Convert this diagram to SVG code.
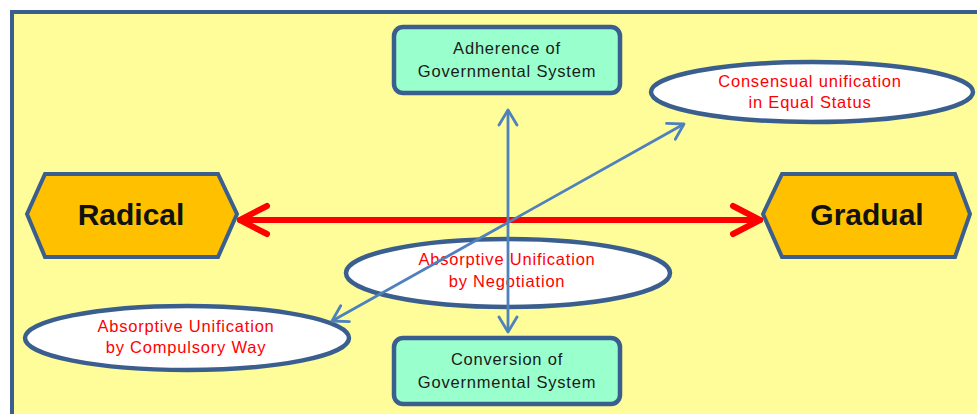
<svg xmlns="http://www.w3.org/2000/svg" width="977" height="414" viewBox="0 0 977 414">
<style>
.panel{fill:#FFFD99;stroke:#3A5F8F;stroke-width:4}
.box{fill:#99FFCC;stroke:#3A5F8F;stroke-width:4.5}
.hex{fill:#FFC000;stroke:#3A5F8F;stroke-width:4}
.ell{fill:#FFFFFF;stroke:#3A5F8F;stroke-width:4.5}
.bt{font-family:"Liberation Sans",Arial,sans-serif;font-size:16.5px;letter-spacing:0.8px;fill:#1A1A1A;text-anchor:middle}
.rt{font-family:"Liberation Sans",Arial,sans-serif;font-size:16.5px;letter-spacing:0.8px;fill:#FF0000;text-anchor:middle}
.ht{font-family:"Liberation Sans",Arial,sans-serif;font-size:30px;font-weight:bold;fill:#111111;text-anchor:middle}
.red{fill:none;stroke:#FF0000;stroke-width:6;stroke-linecap:round;stroke-linejoin:round}
.blue{fill:none;stroke:#4F81BD;stroke-width:2.8}
</style>
<defs>
<marker id="bh" viewBox="0 0 22 22" refX="20" refY="11" markerWidth="22" markerHeight="22" markerUnits="userSpaceOnUse" orient="auto-start-reverse">
<path d="M5,2 L20,11 L5,20" fill="none" stroke="#4F81BD" stroke-width="2.8" stroke-linecap="round" stroke-linejoin="round"/>
</marker>
</defs>
<rect x="0" y="0" width="977" height="414" fill="#FFFFFF"/>
<rect class="panel" x="12" y="12" width="980" height="420"/>
<g id="adherence">
<rect class="box" x="394" y="27" width="226" height="66" rx="9"/>
<text class="bt" x="507" y="54">Adherence of</text>
<text class="bt" x="507" y="77">Governmental System</text>
</g>
<g id="consensual">
<ellipse class="ell" cx="812" cy="92" rx="161" ry="30"/>
<text class="rt" x="810" y="87">Consensual unification</text>
<text class="rt" x="810" y="108">in Equal Status</text>
</g>
<g id="radical">
<polygon class="hex" points="27,214 45,174 218,174 237,214 218,257 45,257"/>
<text class="ht" x="131" y="225">Radical</text>
</g>
<g id="gradual">
<polygon class="hex" points="763,214 782,174 955,174 970,214 955,257 782,257"/>
<text class="ht" x="867" y="225">Gradual</text>
</g>
<g id="negotiation">
<ellipse class="ell" cx="508" cy="273" rx="162" ry="34"/>
<text class="rt" x="507" y="265">Absorptive Unification</text>
<text class="rt" x="507" y="287">by Negotiation</text>
</g>
<g id="compulsory">
<ellipse class="ell" cx="187" cy="338" rx="162" ry="32"/>
<text class="rt" x="186" y="332">Absorptive Unification</text>
<text class="rt" x="186" y="353">by Compulsory Way</text>
</g>
<g id="conversion">
<rect class="box" x="394" y="338" width="226" height="66" rx="9"/>
<text class="bt" x="507" y="365">Conversion of</text>
<text class="bt" x="507" y="388">Governmental System</text>
</g>
<g id="connectors">
<path class="red" d="M240,220 L760,220"/>
<path class="red" d="M267,206 L240,220 L267,234"/>
<path class="red" d="M733,206 L760,220 L733,234"/>
<path class="blue" d="M508,110 L508,332" marker-start="url(#bh)" marker-end="url(#bh)"/>
<path class="blue" d="M332,321 L684,124" marker-start="url(#bh)" marker-end="url(#bh)"/>
</g>
</svg>
